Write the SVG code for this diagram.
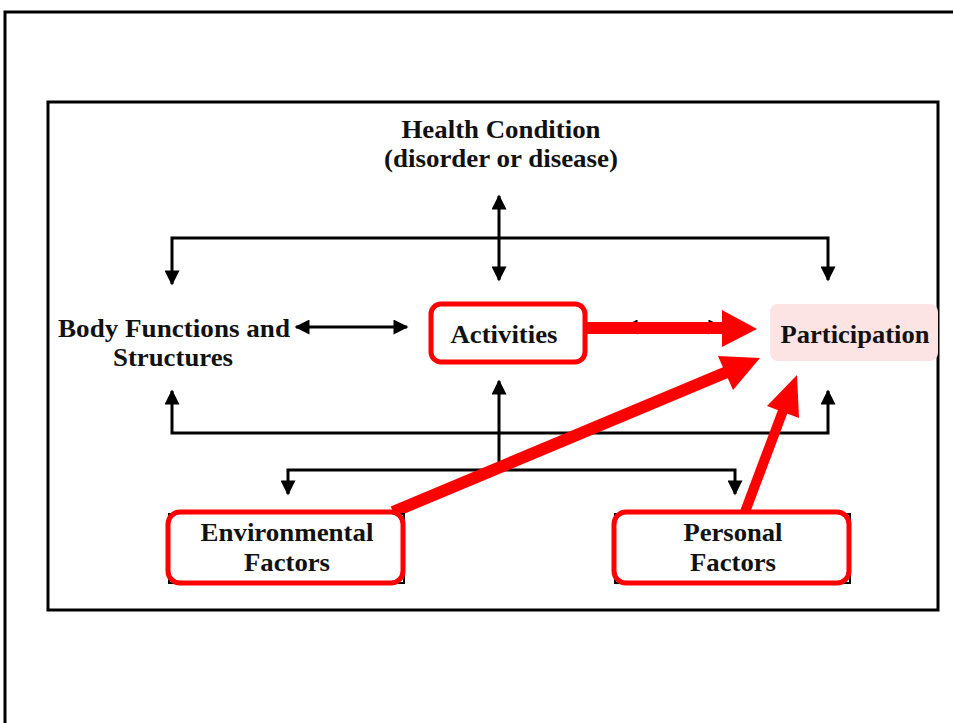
<svg xmlns="http://www.w3.org/2000/svg" width="953" height="723" viewBox="0 0 953 723">
<style>
text{font-family:"Liberation Serif","Times New Roman",serif;font-weight:bold;font-size:25px;fill:#111;text-anchor:middle}
.ln{stroke:#000;stroke-width:3;fill:none}
.redbox{fill:#fff;stroke:#ff0000;stroke-width:5}
</style>
<defs>
<marker id="ah" viewBox="0 0 10 10" refX="9" refY="5" markerWidth="5.5" markerHeight="5" orient="auto-start-reverse" markerUnits="strokeWidth">
<path d="M0,0 L10,5 L0,10 z" fill="#000"/>
</marker>
</defs>
<rect width="953" height="723" fill="#fff"/>
<path d="M5,723 V12 H953" fill="none" stroke="#000" stroke-width="3"/>
<rect x="48" y="102" width="890" height="508" fill="#fff" stroke="#000" stroke-width="3"/>
<rect x="770" y="304" width="168" height="57" rx="8" fill="#fde4e4"/>

<g id="connectors">
<path class="ln" d="M499,196 V280" marker-start="url(#ah)" marker-end="url(#ah)"/>
<path class="ln" d="M172,284 V238 H828 V280" marker-start="url(#ah)" marker-end="url(#ah)"/>
<path class="ln" d="M296,327 H407" marker-start="url(#ah)" marker-end="url(#ah)"/>
<path class="ln" d="M624,327 H722" marker-start="url(#ah)" marker-end="url(#ah)"/>
<path class="ln" d="M172,391 V433 H828 V391" marker-start="url(#ah)" marker-end="url(#ah)"/>
<path class="ln" d="M499,381 V470" marker-start="url(#ah)"/>
<path class="ln" d="M288,494 V470 H735 V494" marker-start="url(#ah)" marker-end="url(#ah)"/>
<path d="M585,328 H724" stroke="#ff0000" stroke-width="12" fill="none"/>
<polygon points="722,310 757,329 722,347" fill="#ff0000"/>
<path d="M393,512 L727,372" stroke="#ff0000" stroke-width="12" fill="none"/>
<polygon points="718,356 760,358 733,390" fill="#ff0000"/>
<path d="M745,512 L784,408" stroke="#ff0000" stroke-width="10" fill="none"/>
<polygon points="767,406 797,375 799,418" fill="#ff0000"/>
</g>

<g id="health">
<text x="501" y="138" textLength="199" lengthAdjust="spacingAndGlyphs">Health Condition</text>
<text x="501" y="167" textLength="234" lengthAdjust="spacingAndGlyphs">(disorder or disease)</text>
</g>
<g id="body">
<text x="174" y="337" textLength="232" lengthAdjust="spacingAndGlyphs">Body Functions and</text>
<text x="173" y="366" textLength="120" lengthAdjust="spacingAndGlyphs">Structures</text>
</g>
<g id="activities">
<rect class="redbox" x="431" y="304" width="154" height="58" rx="10"/>
<text x="504" y="343" textLength="107" lengthAdjust="spacingAndGlyphs">Activities</text>
</g>
<g id="participation">
<text x="855" y="343" textLength="149" lengthAdjust="spacingAndGlyphs">Participation</text>
</g>
<g id="environmental">
<rect x="169" y="514" width="235" height="69" fill="none" stroke="#000" stroke-width="2"/>
<rect class="redbox" x="168" y="512" width="235" height="71" rx="12"/>
<text x="287" y="541" textLength="173" lengthAdjust="spacingAndGlyphs">Environmental</text>
<text x="287" y="571" textLength="86" lengthAdjust="spacingAndGlyphs">Factors</text>
</g>
<g id="personal">
<rect x="615" y="514" width="235" height="69" fill="none" stroke="#000" stroke-width="2"/>
<rect class="redbox" x="614" y="512" width="235" height="71" rx="12"/>
<text x="733" y="541" textLength="99" lengthAdjust="spacingAndGlyphs">Personal</text>
<text x="733" y="571" textLength="86" lengthAdjust="spacingAndGlyphs">Factors</text>
</g>
</svg>
